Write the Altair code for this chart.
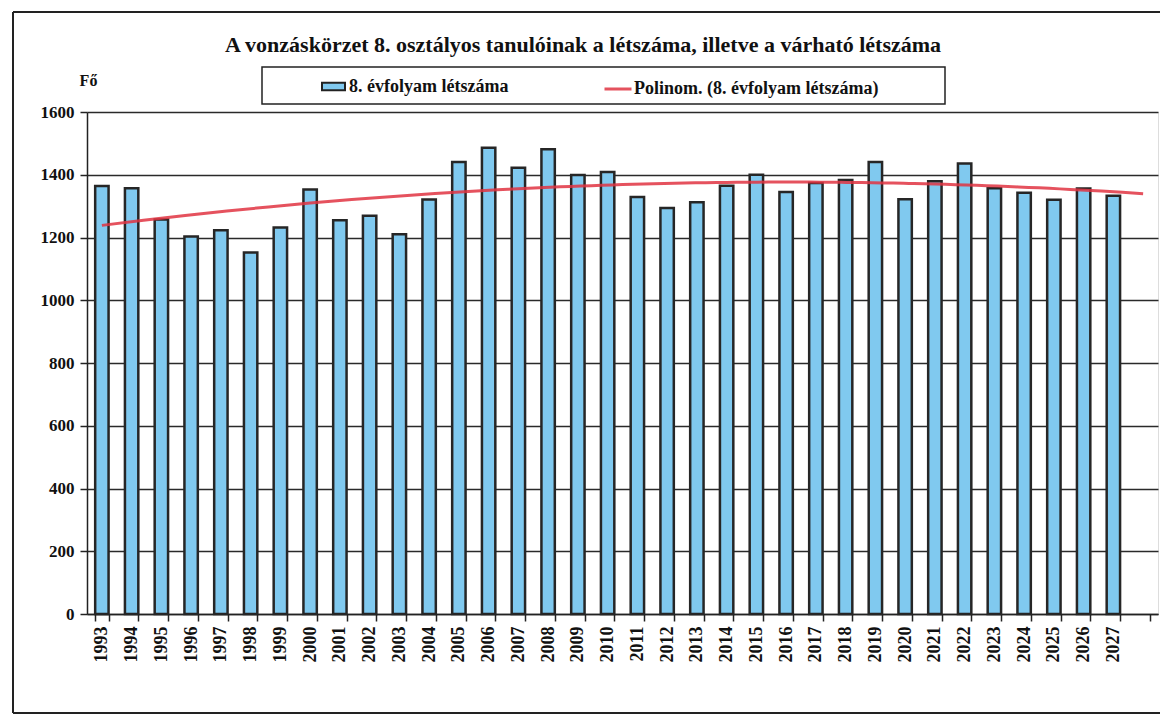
import altair as alt
import pandas as pd

years = list(range(1993, 2028))
values = [1364, 1357, 1257, 1203, 1223, 1152, 1232, 1353, 1255, 1269,
          1210, 1321, 1441, 1486, 1422, 1481, 1399, 1409, 1329, 1294,
          1312, 1365, 1400, 1345, 1374, 1383, 1441, 1322, 1379, 1436,
          1357, 1343, 1320, 1356, 1333]
domain_years = [str(y) for y in range(1993, 2029)]  # last slot is an empty category
y_ticks = [0, 200, 400, 600, 800, 1000, 1200, 1400, 1600]

title_text = "A vonzáskörzet 8. osztályos tanulóinak a létszáma, illetve a várható létszáma"
bar_label = "8. évfolyam létszáma"
trend_label = "Polinom. (8. évfolyam létszáma)"

df = pd.DataFrame({
    "year": years,
    "year_str": [str(y) for y in years],
    "value": values,
    "series": [bar_label] * len(years),
})

FONT = "Liberation Serif"
W, H = 1071, 502

bars = alt.Chart(df).mark_bar(stroke="#262626", strokeWidth=2.5).encode(
    x=alt.X("year_str:O",
            scale=alt.Scale(domain=domain_years, paddingInner=0.55, paddingOuter=0.275),
            axis=alt.Axis(labelExpr="datum.value == '2028' ? '' : datum.value",
                          labelAngle=270, tickBand="extent", title=None,
                          labelFont=FONT, labelFontSize=18, labelFontWeight="bold",
                          labelColor="#111", domainColor="#222", domainWidth=1.5,
                          tickColor="#222", tickWidth=1.5, tickSize=7, labelPadding=5)),
    y=alt.Y("value:Q",
            scale=alt.Scale(domain=[0, 1600], nice=False),
            axis=alt.Axis(values=y_ticks, format="d", title="Fő", titleAngle=0,
                          titleX=1, titleY=-32,
                          titleAlign="center", titleBaseline="middle", titleFont=FONT,
                          titleFontSize=16, titleFontWeight="bold", titleColor="#111",
                          labelFont=FONT, labelFontSize=17, labelFontWeight="bold",
                          labelColor="#111", grid=True, gridColor="#2a2a2a", gridWidth=1.5,
                          domainColor="#222", domainWidth=1.5, tickColor="#222",
                          tickWidth=1.5, tickSize=7, labelPadding=6)),
    fill=alt.Fill("series:N",
                  scale=alt.Scale(domain=[bar_label], range=["#80c9ef"]),
                  legend=alt.Legend(title=None, orient="none", legendX=234, legendY=-38,
                                    symbolType="M-1,-0.33L1,-0.33L1,0.33L-1,0.33Z",
                                    symbolSize=529, symbolStrokeColor="#222",
                                    symbolStrokeWidth=2, labelFont=FONT, labelFontSize=18,
                                    labelFontWeight="bold", labelColor="#111",
                                    labelOffset=3, padding=0, labelLimit=0)),
)

trend = alt.Chart(df).transform_regression(
    "year", "value", method="poly", order=2, extent=[1993, 2028]
).transform_calculate(
    series2=f"'{trend_label}'"
).mark_line(strokeWidth=3, opacity=0.85).encode(
    x=alt.X("year:Q", scale=alt.Scale(domain=[1992.5, 2028.5], nice=False, zero=False),
            axis=None),
    y=alt.Y("value:Q"),
    stroke=alt.Stroke("series2:N",
                      scale=alt.Scale(domain=[trend_label], range=["#e03442"]),
                      legend=alt.Legend(title=None, orient="none", legendX=516, legendY=-38,
                                        symbolType="stroke", symbolSize=729,
                                        symbolStrokeWidth=3, labelFont=FONT,
                                        labelFontSize=18, labelFontWeight="bold",
                                        labelColor="#111", labelOffset=1, padding=0,
                                        labelLimit=0)),
)

frame_data = alt.Data(values=[{"t": title_text}])
title_mark = alt.Chart(frame_data).mark_text(
    font=FONT, fontSize=22, fontWeight="bold", color="#111", align="center",
    baseline="middle").encode(text="t:N", x=alt.value(496), y=alt.value(-67))
legend_box = alt.Chart(frame_data).mark_rect(fill=None, stroke="#222", strokeWidth=1.5).encode(
    x=alt.value(175), x2=alt.value(858), y=alt.value(-45), y2=alt.value(-8))
outer_top = alt.Chart(frame_data).mark_rule(stroke="#222", strokeWidth=2).encode(
    x=alt.value(-74), x2=alt.value(1081), y=alt.value(-100))
outer_bottom = alt.Chart(frame_data).mark_rule(stroke="#222", strokeWidth=2).encode(
    x=alt.value(-74), x2=alt.value(1081), y=alt.value(601))
outer_left = alt.Chart(frame_data).mark_rule(stroke="#222", strokeWidth=2).encode(
    x=alt.value(-74), y=alt.value(-100), y2=alt.value(601))

chart = alt.layer(bars, trend, title_mark, legend_box, outer_top, outer_bottom,
                  outer_left).resolve_scale(
    x="independent"
).properties(
    width=W, height=H,
    autosize=alt.AutoSizeParams(type="none"),
    padding={"left": 79, "top": 104, "right": 2, "bottom": 101},
).configure_view(stroke="#222", strokeWidth=1.5).configure(background="white")

chart.save("out.html", embed_options={"renderer": "svg", "actions": False})
